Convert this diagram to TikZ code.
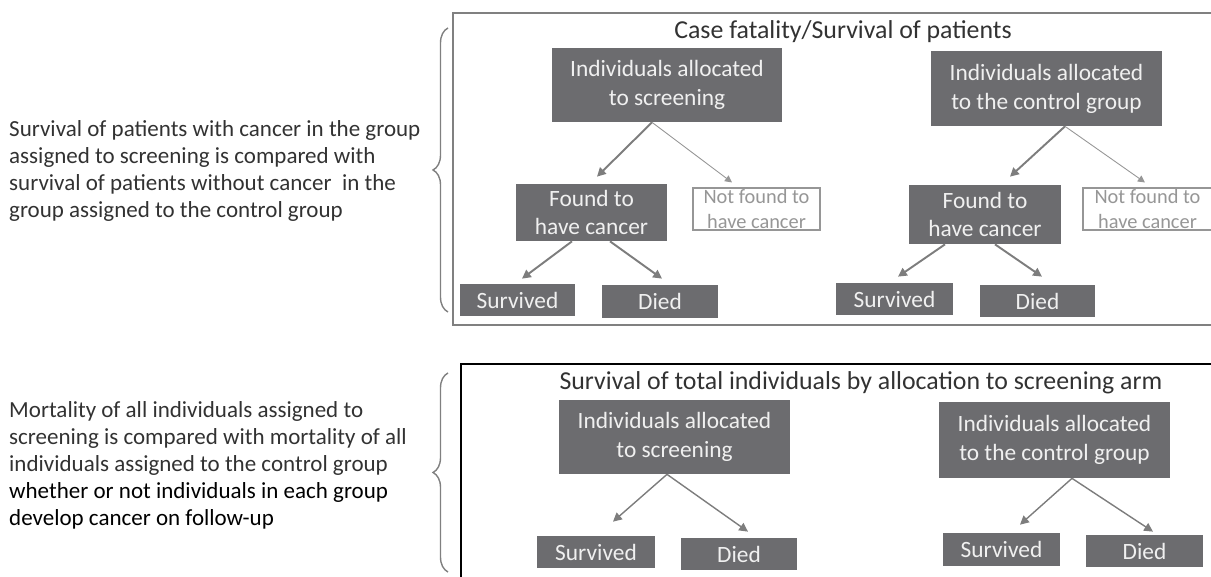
\documentclass[tikz,border=0pt]{standalone}
\usepackage{fontspec}
\setmainfont{Carlito}
\usetikzlibrary{arrows.meta, positioning, decorations.pathreplacing}
\definecolor{bgray}{RGB}{108,108,111}
\definecolor{btext}{RGB}{240,240,240}
\definecolor{agray}{RGB}{125,125,125}
\definecolor{ngray}{RGB}{150,150,150}
\definecolor{tgray}{RGB}{50,50,50}
\definecolor{fgray}{RGB}{128,128,128}

\begin{document}
\begin{tikzpicture}[x=0.02cm, y=-0.02cm, font=\fontsize{13.1}{15.4}\selectfont,
  dbox/.style={fill=bgray, text=btext, align=center, inner sep=0pt, font=\fontsize{13.3}{16.4}\selectfont},
  wbox/.style={draw=ngray, fill=white, text=ngray, align=center, inner sep=0pt, line width=0.6pt, font=\fontsize{11.6}{14.2}\selectfont},
  thk/.style={agray, line width=1.1pt, -{Triangle[length=5pt,width=5pt]}},
  thn/.style={ngray, line width=0.5pt, -{Triangle[length=4pt,width=4pt]}},
  brc/.style={fgray, line width=0.8pt, decorate, decoration={brace, amplitude=0.3cm}},
  ttl/.style={text=tgray, font=\fontsize{14.7}{17}\selectfont}]
  \useasboundingbox (0,0) rectangle (1211,577);

  % Frames
  \draw[fgray, line width=1.1pt] (453,13) rectangle (1220,325);
  \draw[black, line width=1.7pt] (461,364) rectangle (1220,590);
  \node[ttl] (t1) at (843,32) {Case fatality/Survival of patients};
  \node[ttl] (t2) at (861,383) {Survival of total individuals by allocation to screening arm};

  % Braces
  \draw[brc] (448,312) -- (448,28);
  \draw[brc] (448,572) -- (448,373);

  % Left texts
  \node[anchor=west, align=left, text=tgray] (txa) at (3,171) {Survival of patients with cancer in the group\\
    assigned to screening is compared with\\
    survival of patients without cancer\ \ in the\\
    group assigned to the control group};
  \node[anchor=west, align=left, text=tgray] (txb) at (3,465) {Mortality of all individuals assigned to\\
    screening is compared with mortality of all\\
    individuals assigned to the control group\\
    \textcolor{black}{whether or not individuals in each group}\\
    \textcolor{black}{develop cancer on follow-up}};

  % Case fatality: screening arm
  \node[dbox, minimum width=4.6cm, minimum height=1.48cm] (scr1) at (667,85) {Individuals allocated\\to screening};
  \node[dbox, minimum width=3.02cm, minimum height=1.14cm] (fc1) at (591.5,212.5) {Found to\\have cancer};
  \node[wbox, minimum width=2.54cm, minimum height=0.84cm] (nf1) at (756.5,209) {Not found to\\have cancer};
  \node[dbox, minimum width=2.3cm, minimum height=0.64cm] (sv1) at (517.5,300) {Survived};
  \node[dbox, minimum width=2.32cm, minimum height=0.66cm] (di1) at (660,301.5) {Died};

  % Case fatality: control arm
  \node[dbox, minimum width=4.62cm, minimum height=1.5cm] (ctl1) at (1046.5,88.5) {Individuals allocated\\to the control group};
  \node[dbox, minimum width=3.04cm, minimum height=1.18cm] (fc2) at (985,214.5) {Found to\\have cancer};
  \node[wbox, minimum width=2.58cm, minimum height=0.84cm] (nf2) at (1147.5,209) {Not found to\\have cancer};
  \node[dbox, minimum width=2.34cm, minimum height=0.64cm] (sv2) at (894.5,299) {Survived};
  \node[dbox, minimum width=2.3cm, minimum height=0.64cm] (di2) at (1037.5,301) {Died};

  \draw[thk] ([xshift=-0.3cm]scr1.south) -- ([xshift=0.11cm,yshift=0.14cm]fc1.north);
  \draw[thn] ([xshift=-0.3cm]scr1.south) -- ([xshift=-0.49cm,yshift=0.1cm]nf1.north);
  \draw[thk] ([xshift=-0.39cm]fc1.south) -- ([xshift=0.09cm,yshift=0.1cm]sv1.north);
  \draw[thk] ([xshift=0.37cm]fc1.south) -- ([xshift=0.04cm,yshift=0.12cm]di1.north);
  \draw[thk] ([xshift=0.37cm]ctl1.south) -- ([xshift=0.5cm,yshift=0.16cm]fc2.north);
  \draw[thn] ([xshift=0.37cm]ctl1.south) -- ([xshift=-0.05cm,yshift=0.1cm]nf2.north);
  \draw[thk] ([xshift=-0.8cm]fc2.south) -- ([xshift=0.07cm,yshift=0.12cm]sv2.north);
  \draw[thk] ([xshift=0.2cm]fc2.south) -- ([xshift=0.09cm,yshift=0.16cm]di2.north);

  % Total survival by allocation
  \node[dbox, minimum width=4.62cm, minimum height=1.48cm] (scr3) at (674.5,437) {Individuals allocated\\to screening};
  \node[dbox, minimum width=2.36cm, minimum height=0.64cm] (sv3) at (596,552) {Survived};
  \node[dbox, minimum width=2.32cm, minimum height=0.64cm] (di3) at (739,554) {Died};
  \node[dbox, minimum width=4.62cm, minimum height=1.52cm] (ctl3) at (1054.5,440) {Individuals allocated\\to the control group};
  \node[dbox, minimum width=2.34cm, minimum height=0.66cm] (sv4) at (1001.5,549.5) {Survived};
  \node[dbox, minimum width=2.34cm, minimum height=0.64cm] (di4) at (1144.5,551) {Died};

  \draw[thk, line width=0.8pt] ([xshift=-0.15cm]scr3.south) -- ([xshift=0.34cm,yshift=0.28cm]sv3.north);
  \draw[thk, line width=0.8pt] ([xshift=-0.15cm]scr3.south) -- ([xshift=0.18cm,yshift=0.12cm]di3.north);
  \draw[thk, line width=0.8pt] ([xshift=0.35cm]ctl3.south) -- ([xshift=0.37cm,yshift=0.16cm]sv4.north);
  \draw[thk, line width=0.8pt] ([xshift=0.35cm]ctl3.south) -- ([xshift=0.17cm,yshift=0.06cm]di4.north);
\end{tikzpicture}
\end{document}
